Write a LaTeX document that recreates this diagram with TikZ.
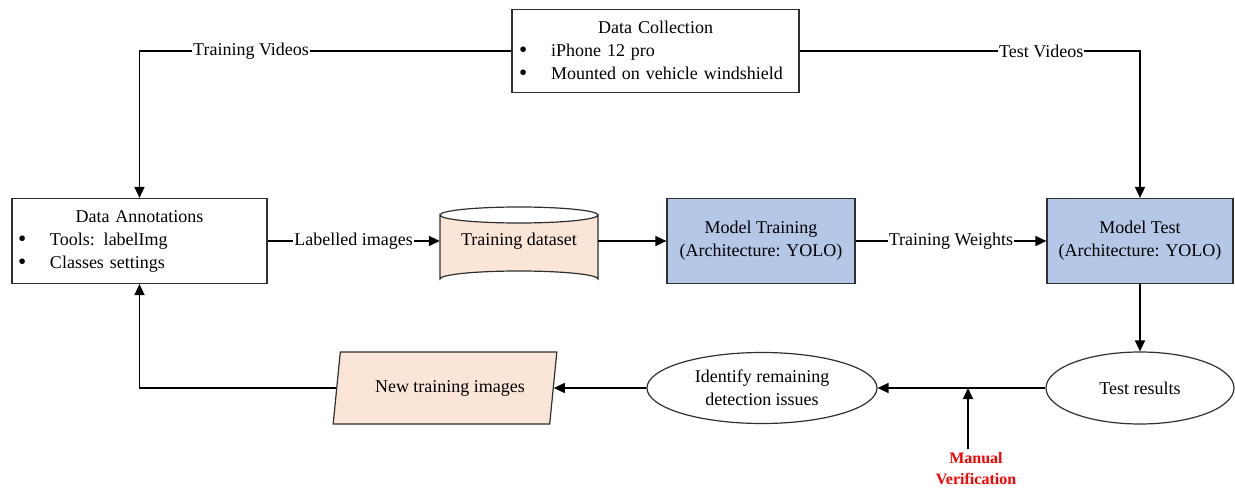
\documentclass[tikz,border=0pt]{standalone}
\usepackage{fontspec}
\setmainfont{Liberation Serif}
\usetikzlibrary{arrows.meta,shapes.geometric}
\definecolor{peach}{HTML}{FBE5D6}
\definecolor{lblue}{HTML}{B4C7E7}
\definecolor{bord}{HTML}{303030}
\newcommand{\bul}{\makebox[32pt][l]{\raisebox{-1.3pt}{\scalebox{1.3}{\textbullet}}}}
\begin{document}
\begin{tikzpicture}[x=1pt,y=-1pt,
  font=\fontsize{18}{23}\selectfont,
  box/.style={draw=bord, line width=1.2pt, rectangle, inner ysep=0pt},
  arr/.style={line width=1.6pt, -{Triangle[length=11pt,width=10pt]}},
  lbl/.style={fill=white, inner xsep=1pt, inner ysep=2pt},
  oval/.style={draw=bord, line width=1.2pt, ellipse, inner sep=0pt, align=center},
]
\useasboundingbox (0,0) rectangle (1235,489);
\fill[white] (0,0) rectangle (1235,489);

% Data Collection
\node[box, minimum width=287, minimum height=83, text width=273, inner xsep=7pt, align=left] (dc) at (655.5,51)
  {{\centering Data Collection\par}\bul iPhone 12 pro\par\bul Mounted on vehicle windshield};

% Data Annotations
\node[box, minimum width=255, minimum height=85, text width=243, inner xsep=6pt, align=left] (da) at (139.5,241)
  {{\centering Data Annotations\par}\bul Tools: labelImg\par\bul Classes settings};

% Training dataset cylinder
\filldraw[fill=peach, draw=bord, line width=1.2pt] (440,215) -- (440,279)
  arc[start angle=180, end angle=360, x radius=79, y radius=8] -- (598,215)
  arc[start angle=0, end angle=180, x radius=79, y radius=8] -- cycle;
\draw[draw=bord, line width=1.2pt] (440,215) arc[start angle=180, end angle=360, x radius=79, y radius=8];
\node[minimum width=158, minimum height=68, inner sep=0pt] (ds) at (519,241) {Training dataset};

% Model Training
\node[box, fill=lblue, minimum width=188, minimum height=85, align=center] (mt) at (761,241)
  {Model Training\\(Architecture: YOLO)};

% Model Test
\node[box, fill=lblue, minimum width=186, minimum height=85, align=center] (mte) at (1140,241)
  {Model Test\\(Architecture: YOLO)};

% Test results
\node[oval, minimum width=188, minimum height=72] (tr) at (1140,388) {Test results};

% Identify remaining detection issues
\node[oval, minimum width=230, minimum height=71] (id) at (762,388) {Identify remaining\\detection issues};

% New training images
\node[trapezium, trapezium left angle=71, trapezium right angle=109, trapezium stretches=true,
  draw=bord, line width=1.2pt, fill=peach, minimum width=224, minimum height=72, inner sep=0pt] (nt) at (445,388) {\hspace*{10pt}New training images};

% Manual Verification
\node[text=red, font=\fontsize{16}{21}\selectfont\bfseries, align=center] (mv) at (976,469) {Manual\\Verification};
\coordinate (mvt) at (968,388);

% connectors
\draw[arr] (dc.west) -| node[lbl, pos=0.35] (tvl) {Training Videos} (da.north);
\draw[arr] (dc.east) -| node[lbl, pos=0.355] (tsl) {Test Videos} (mte.north);
\draw[arr] (da.east) -- node[lbl] (lil) {Labelled images} (ds.west);
\draw[arr] (ds.east) -- (mt.west);
\draw[arr] (mt.east) -- node[lbl] (twl) {Training Weights} (mte.west);
\draw[arr] (mte.south) -- (tr.north);
\draw[arr] (tr.west) -- (id.east);
\draw[arr] (mv.north -| mvt) -- (mvt);
\draw[arr] (id.west) -- (nt.east);
\draw[arr] (nt.west) -| (da.south);
\end{tikzpicture}
\end{document}
